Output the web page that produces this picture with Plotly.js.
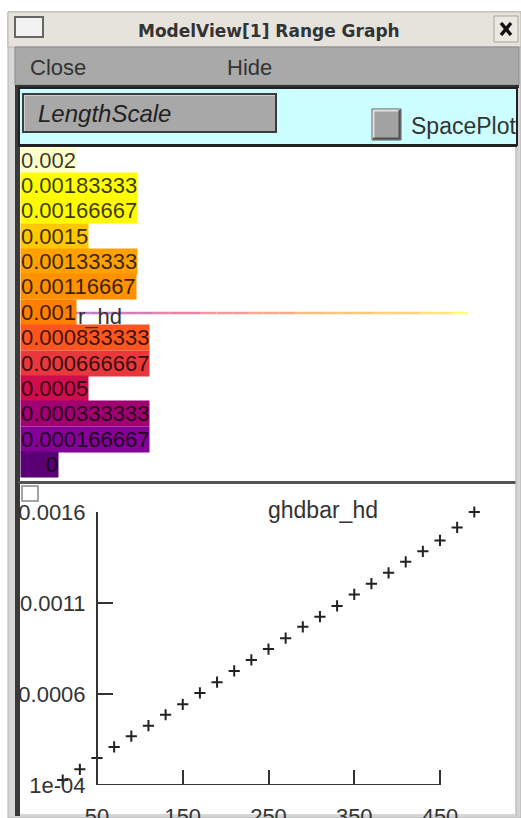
<!DOCTYPE html>
<html>
<head>
<meta charset="utf-8">
<script src="https://cdn.plot.ly/plotly-3.0.1.min.js"></script>
<style>html,body{margin:0;padding:0;background:#fff;}#chart{width:521px;height:818px;}</style>
</head>
<body>
<div id="chart"></div>
<script>
// ---------- data ----------
const keyLevels = ['0.002','0.00183333','0.00166667','0.0015','0.00133333','0.00116667','0.001','0.000833333','0.000666667','0.0005','0.000333333','0.000166667','0'];
const keyColors = ['#ffffcc','#ffff00','#fffa00','#ffc800','#ffa200','#ff9000','#ff7f00','#ff5520','#e8383c','#cf0c4c','#a00072','#850096','#5a0074'];
const distance = [10,30,50,70,90,110,130,150,170,190,210,230,250,270,290,310,330,350,370,390,410,430,450,470,490];
const ghdbar = [0.000127,0.000186,0.000249,0.000309,0.000368,0.000426,0.000486,0.000543,0.000606,0.000665,0.000727,0.000787,0.000847,0.000907,0.000969,0.001025,0.001084,0.001147,0.001206,0.001266,0.001326,0.001384,0.001444,0.001515,0.001600];
const xTickVals = [50,150,250,350,450];
const yTickVals = [0.0016,0.0011,0.0006,0.0001];
const yTickText = ['0.0016','0.0011','0.0006','1e-04'];
const keyMax = 0.002;

// ---------- helpers ----------
const W = 521, H = 818;
const X = px => px / W;
const Y = py => 1 - py / H;
const FONT = 'Liberation Sans, Arial, sans-serif';
function rect(x0, y0, x1, y1, fill, line, lw) {
  return {type:'rect', xref:'paper', yref:'paper', x0:X(x0), x1:X(x1), y0:Y(y1), y1:Y(y0),
          fillcolor:fill, line:{color:line || 'rgba(0,0,0,0)', width:lw || 0}, layer:'below'};
}
function seg(x0, y0, x1, y1, color, w) {
  return {type:'line', xref:'paper', yref:'paper', x0:X(x0), x1:X(x1), y0:Y(y0), y1:Y(y1), line:{color:color, width:w}, layer:'below'};
}
const hline = (x0, x1, y, c, w) => seg(x0, y, x1, y, c, w);
const vline = (x, y0, y1, c, w) => seg(x, y0, x, y1, c, w);
function text(t, x, y, opts) {
  opts = opts || {};
  return Object.assign({text:t, xref:'paper', yref:'paper', x:X(x), y:Y(y), showarrow:false,
    xanchor:'left', yanchor:'middle', font:{family:FONT, size:22, color:'#333'}}, opts);
}

// ---------- window chrome ----------
const shapes = [
  rect(8, 12, 521, 818, '#d6d6d6', '#b0b0b0', 1),        // frame
  rect(8, 12, 521, 47, '#e6e3dd', '#b8b4ae', 1),         // title bar
  rect(15, 17, 43, 37, '#f2f2f2', '#666', 2),            // window icon
  rect(494, 16, 518, 42, '#ebe8e2', '#a8a49e', 1),       // close X button
  seg(501, 23, 511, 35, '#111', 3.5),
  seg(511, 23, 501, 35, '#111', 3.5),
  rect(15, 47, 519, 85, '#a9a9a9', '#8a8a8a', 1),        // menu bar
  hline(15, 519, 86.5, '#333', 3),
  rect(15, 88, 20, 816, '#3a3a3a'),                      // left dark edge
  rect(19, 88, 517, 145, '#ccffff', '#222', 2),          // cyan panel
  rect(23, 94, 276, 132, '#a8a8a8', '#3c3c3c', 2),       // LengthScale button
  hline(24, 275, 95.5, '#d0d0d0', 1),
  vline(24.5, 95, 131, '#d0d0d0', 1),
  rect(372, 109, 401, 140, '#a2a2a2', '#5a5a5a', 1),     // checkbox
  hline(373, 400, 110.5, '#e0e0e0', 2),
  vline(373.5, 110, 139, '#e0e0e0', 2),
  hline(373, 400, 138.5, '#505050', 2),
  vline(399.5, 110, 139, '#505050', 2),
  rect(20, 147, 515, 481, '#ffffff'),                    // key panel
  hline(18, 517, 146, '#222', 2),
  hline(18, 517, 482.5, '#555', 3),
  rect(20, 484, 515, 814, '#ffffff'),                    // graph panel
  vline(516.5, 147, 816, '#c8c8c8', 2),
  rect(22, 486, 38, 501, '#ffffff', '#888', 1.5),        // small graph box
  // x axis line between the first and last tick, at the bottom of the y range
  {type:'line', xref:'x', yref:'y', x0:xTickVals[0], x1:xTickVals[xTickVals.length - 1],
   y0:yTickVals[yTickVals.length - 1], y1:yTickVals[yTickVals.length - 1], line:{color:'#333', width:2}, layer:'above'}
];

// ---------- annotations ----------
const annotations = [
  text('<b>ModelView[1] Range Graph</b>', 269, 31, {xanchor:'center', font:{family:'DejaVu Sans, sans-serif', size:17, color:'#333'}}),
  text('Close', 28, 67),
  text('Hide', 225, 67),
  text('<i>LengthScale</i>', 36, 113, {font:{family:FONT, size:24, color:'#222'}}),
  text('SpacePlot', 409, 126, {font:{family:FONT, size:23, color:'#333'}}),
  text('ghdbar_hd', 323, 510, {xanchor:'center', font:{family:FONT, size:23, color:'#333'}})
];
const rowH = 25.4, row0 = 160;
keyLevels.forEach((lab, i) => {
  const a = text(lab, 20, row0 + i * rowH, {bgcolor:keyColors[i], height:25, borderpad:0,
    font:{family:FONT, size:22, color:'rgba(0,0,0,0.78)'}});
  if (lab.length === 1) { a.width = 37; a.align = 'right'; }
  annotations.push(a);
});
annotations.push(text('r_hd', 76, 316, {font:{family:FONT, size:22, color:'#333'}}));

// ---------- traces ----------
const traces = [];
// space plot line of r_hd coloured by the key
const step = keyMax / (keyLevels.length - 1);
let segs = {};
distance.forEach((d, i) => {
  const k = Math.max(0, Math.min(keyLevels.length - 1, Math.round(ghdbar[i] / step)));
  const c = keyColors[keyLevels.length - 1 - k];
  if (!segs[c]) segs[c] = {x:[], y:[]};
  segs[c].x.push(d - 10, d + 10, null);
  segs[c].y.push(0.5, 0.5, null);
});
Object.keys(segs).forEach(c => {
  traces.push({x:segs[c].x, y:segs[c].y, xaxis:'x2', yaxis:'y2', mode:'lines', type:'scatter',
    line:{color:c, width:2.5}, opacity:0.5, hoverinfo:'skip', showlegend:false});
});
// ghdbar_hd vs distance
traces.push({x:distance, y:ghdbar, type:'scatter', mode:'markers', cliponaxis:false,
  marker:{symbol:'cross-thin', size:8, line:{color:'#222', width:2}}, showlegend:false});

// x axis: 50 -> 97px, 450 -> 440px
const pxPerUnit = (440 - 97) / 400;
const xRange = [0, 500];
const xPx = v => 97 + (v - 50) * pxPerUnit;
const axisFont = {family:FONT, size:22, color:'#333'};
const layout = {
  width:W, height:H, margin:{l:0, r:0, t:0, b:0}, paper_bgcolor:'#ffffff', plot_bgcolor:'rgba(0,0,0,0)',
  showlegend:false, shapes:shapes, annotations:annotations,
  xaxis:{domain:[X(xPx(xRange[0])), X(xPx(xRange[1]))], range:xRange, showline:false,
    ticks:'inside', ticklen:15, tickwidth:2, tickcolor:'#333', tickvals:xTickVals, showgrid:false,
    zeroline:false, tickfont:axisFont, ticklabelstandoff:16, fixedrange:true},
  yaxis:{domain:[Y(785), Y(512)], range:[0.0001, 0.0016], anchor:'free', position:X(97),
    showline:true, linecolor:'#333', linewidth:2,
    ticks:'inside', ticklen:15, tickwidth:2, tickcolor:'#333', tickvals:yTickVals, ticktext:yTickText,
    showgrid:false, zeroline:false, tickfont:axisFont, ticklabelstandoff:6, fixedrange:true},
  xaxis2:{domain:[X(75), X(468)], range:[0, 500], visible:false, anchor:'y2'},
  yaxis2:{domain:[Y(330), Y(296)], range:[0, 1], visible:false, anchor:'x2'}
};
Plotly.newPlot('chart', traces, layout, {staticPlot:true, displayModeBar:false});
</script>
</body>
</html>
